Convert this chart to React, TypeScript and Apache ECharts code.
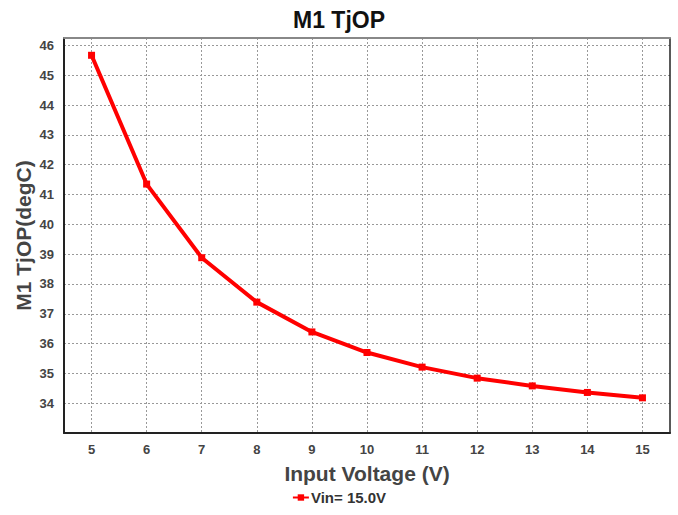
import React, { useEffect, useRef } from "react";
import * as echarts from "echarts";

const title = "M1 TjOP";
const xName = "Input Voltage (V)";
const yName = "M1 TjOP(degC)";
const seriesName = "Vin= 15.0V";
const inputVoltage = [5, 6, 7, 8, 9, 10, 11, 12, 13, 14, 15];
const tjop = [45.67, 41.35, 38.88, 37.39, 36.39, 35.7, 35.21, 34.84, 34.58, 34.36, 34.18];
const xTicks = [5, 6, 7, 8, 9, 10, 11, 12, 13, 14, 15];

export default function App() {
  const ref = useRef<HTMLDivElement>(null);
  useEffect(() => {
    if (!ref.current) return;
    const chart = echarts.init(ref.current, undefined, { renderer: "svg" });
    const font = "'Liberation Sans', Arial, sans-serif";
    chart.setOption({
      animation: false,
      backgroundColor: "#ffffff",
      title: {
        text: title,
        left: "center",
        top: 3,
        textStyle: { fontFamily: font, fontWeight: "bold", fontSize: 23, color: "#111" },
      },
      legend: {
        bottom: 5,
        left: "center",
        itemWidth: 16,
        itemHeight: 8,
        itemGap: 2,
        textStyle: { fontFamily: font, fontWeight: "bold", fontSize: 15, color: "#333", padding: [0, 0, 0, -3] },
        data: [{ name: seriesName }],
      },
      grid: { left: 64, right: 8, top: 38, bottom: 82, containLabel: false },
      xAxis: [
        {
          type: "value",
          min: 4.5,
          max: 15.5,
          name: xName,
          nameLocation: "middle",
          nameGap: 30,
          nameTextStyle: { fontFamily: font, fontWeight: "bold", fontSize: 21, color: "#444" },
          axisLine: { show: true, onZero: false, lineStyle: { color: "#222", width: 2 } },
          axisTick: { show: false, customValues: xTicks },
          axisLabel: {
            customValues: xTicks,
            margin: 10,
            fontFamily: font,
            fontWeight: "bold",
            fontSize: 13,
            color: "#444",
          },
          splitLine: { show: true, lineStyle: { color: "#999", type: [2, 2], width: 1 } },
        },
        {
          type: "value",
          position: "top",
          min: 4.5,
          max: 15.5,
          axisLine: { show: true, onZero: false, lineStyle: { color: "#888", width: 2 } },
          axisTick: { show: false },
          axisLabel: { show: false },
          splitLine: { show: false },
        },
      ],
      yAxis: [
        {
          type: "value",
          min: 33,
          max: 46.25,
          interval: 1,
          name: yName,
          nameLocation: "middle",
          nameGap: 30,
          nameMoveOverlap: false,
          nameTextStyle: { fontFamily: font, fontWeight: "bold", fontSize: 21, color: "#444" },
          axisLine: { show: true, onZero: false, lineStyle: { color: "#222", width: 2 } },
          axisTick: { show: false },
          axisLabel: {
            showMinLabel: false,
            showMaxLabel: false,
            margin: 10,
            fontFamily: font,
            fontWeight: "bold",
            fontSize: 13,
            color: "#444",
          },
          splitLine: { show: true, lineStyle: { color: "#999", type: [2, 2], width: 1 } },
        },
        {
          type: "value",
          position: "right",
          min: 33,
          max: 46.25,
          axisLine: { show: true, onZero: false, lineStyle: { color: "#222", width: 1.5 } },
          axisTick: { show: false },
          axisLabel: { show: false },
          splitLine: { show: false },
        },
      ],
      series: [
        {
          name: seriesName,
          type: "line",
          data: inputVoltage.map((v, i) => [v, tjop[i]]),
          symbol: "rect",
          symbolSize: 7,
          lineStyle: { color: "#ff0000", width: 4 },
          itemStyle: { color: "#ff0000" },
        },
      ],
    });
    return () => chart.dispose();
  }, []);
  return <div ref={ref} style={{ width: 678, height: 515, position: "absolute", left: 0, top: 0 }} />;
}
